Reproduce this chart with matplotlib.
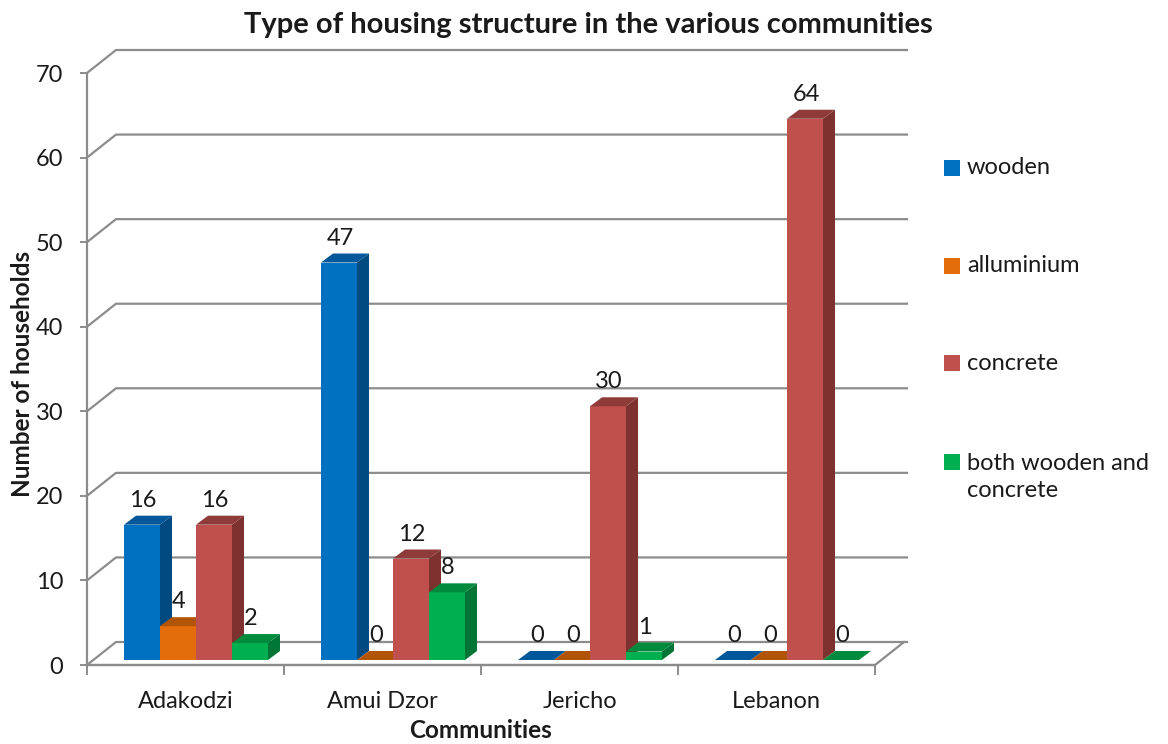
import matplotlib
matplotlib.use("Agg")
import matplotlib.pyplot as plt
from matplotlib.patches import Polygon, Rectangle
from matplotlib.lines import Line2D

# ---- data ----
communities = ["Adakodzi", "Amui Dzor", "Jericho", "Lebanon"]
series_names = ["wooden", "alluminium", "concrete", "both wooden and\nconcrete"]
wooden = [16, 47, 0, 0]
alluminium = [4, 0, 0, 0]
concrete = [16, 12, 30, 64]
both_wooden_concrete = [2, 8, 1, 0]
series_values = [wooden, alluminium, concrete, both_wooden_concrete]
y_ticks = [0, 10, 20, 30, 40, 50, 60, 70]

# face colours per series: (front, top, side)
face_colors = [
    ("#0070C0", "#00579A", "#004A82"),
    ("#E46C0A", "#B25408", "#9A4707"),
    ("#C0504D", "#8F3B39", "#7E3230"),
    ("#00B050", "#008A3E", "#007535"),
]

plt.rcParams["font.family"] = ["Lato", "DejaVu Sans"]
TXT = "#1a1a1a"

W, H = 1168, 744
fig = plt.figure(figsize=(W / 100, H / 100), dpi=100)
fig.patch.set_facecolor("white")

# front plane of the plot area, in figure pixels
AX_L, AX_R, AX_B, AX_T = 87, 875, 665, 73
ax = fig.add_axes([AX_L / W, 1 - AX_B / H, (AX_R - AX_L) / W, (AX_B - AX_T) / H])
n_cat = len(communities)
ax.set_xlim(0, n_cat)
ax.set_ylim(0, 70)
XS = n_cat / (AX_R - AX_L)
YS = 70 / (AX_B - AX_T)


def P(xd, yd, dxp=0.0, dyp=0.0):
    """data point shifted by a pixel offset (dyp positive = up)"""
    return (xd + dxp * XS, yd + dyp * YS)


GRID = "#8c8c8c"
WALL_DX, WALL_DY = 29, 23
GRID_END = 907 - AX_L

# back wall gridlines with their oblique side-wall segments
for v in y_ticks:
    pts = [P(0, v), P(0, v, WALL_DX, WALL_DY), P(0, v, GRID_END, WALL_DY)]
    ax.add_line(Line2D([p[0] for p in pts], [p[1] for p in pts], color=GRID,
                       lw=1.6, clip_on=False, zorder=1))
# floor: front and right edges
floor = [P(0, 0), P(n_cat, 0), P(n_cat, 0, WALL_DX, WALL_DY)]
ax.add_line(Line2D([p[0] for p in floor], [p[1] for p in floor], color=GRID,
                   lw=1.6, clip_on=False, zorder=1))

# bars
BAR_W_PX = 36
GROUP_OFF_PX = 35
FRONT_DX, FRONT_DY = 2, 5      # bar front plane behind the floor edge
DEPTH_DX, DEPTH_DY = 12, 9     # bar depth
bw = BAR_W_PX * XS
for i in range(n_cat):
    for j, vals in enumerate(series_values):
        v = vals[i]
        fc, tc, sc = face_colors[j]
        x0 = i + (GROUP_OFF_PX + BAR_W_PX * j) * XS
        x1 = x0 + bw
        fl = P(x0, 0, FRONT_DX, FRONT_DY)
        fr = P(x1, 0, FRONT_DX, FRONT_DY)
        tl = P(x0, v, FRONT_DX, FRONT_DY)
        tr = P(x1, v, FRONT_DX, FRONT_DY)
        dx, dy = DEPTH_DX * XS, DEPTH_DY * YS
        if v > 0:
            side = [fr, tr, (tr[0] + dx, tr[1] + dy), (fr[0] + dx, fr[1] + dy)]
            ax.add_patch(Polygon(side, closed=True, facecolor=sc, edgecolor="none",
                                 zorder=2, clip_on=False))
            ax.add_patch(Polygon([fl, fr, tr, tl], closed=True, facecolor=fc,
                                 edgecolor="none", zorder=2, clip_on=False))
        top = [tl, tr, (tr[0] + dx, tr[1] + dy), (tl[0] + dx, tl[1] + dy)]
        ax.add_patch(Polygon(top, closed=True, facecolor=tc, edgecolor="none",
                             zorder=2, clip_on=False))
        lx = (x0 + x1) / 2 + 3 * XS
        ly = v + (FRONT_DY + DEPTH_DY + 5) * YS
        ax.text(lx, ly, str(v), ha="center", va="bottom", fontsize=17,
                color=TXT, zorder=5, clip_on=False)

# axes styling
for s in ["top", "right"]:
    ax.spines[s].set_visible(False)
for s in ["left", "bottom"]:
    ax.spines[s].set_color(GRID)
    ax.spines[s].set_linewidth(1.6)
ax.patch.set_alpha(0)
ax.set_yticks(y_ticks)
ax.set_yticklabels([str(t) for t in y_ticks])
ax.tick_params(axis="y", direction="out", length=5, width=1.4, color=GRID,
               labelsize=17, pad=12, labelcolor=TXT)
ax.set_xticks(range(n_cat + 1))
ax.set_xticklabels([""] * (n_cat + 1))
ax.set_xticks([i + 0.5 for i in range(n_cat)], minor=True)
ax.set_xticklabels(communities, minor=True)
ax.tick_params(axis="x", which="major", direction="out", length=7, width=1.4,
               color=GRID)
ax.tick_params(axis="x", which="minor", length=0, labelsize=17, pad=19,
               labelcolor=TXT)

ax.set_ylabel("Number of households", fontsize=17.5, fontweight="bold", color=TXT,
              va="center")
ax.yaxis.set_label_coords((22 - AX_L) / (AX_R - AX_L), (AX_B - 374) / (AX_B - AX_T))
ax.set_xlabel("Communities", fontsize=17.5, fontweight="bold", va="center", color=TXT)
ax.xaxis.set_label_coords((480 - AX_L) / (AX_R - AX_L), -(731 - AX_B) / (AX_B - AX_T))

fig.text(588 / W, 1 - 25 / H, "Type of housing structure in the various communities",
         ha="center", va="center", fontsize=21, fontweight="bold", color=TXT)

# legend
leg_y = [168, 266, 363, 477]
for (fc, _, _), name, y in zip(face_colors, series_names, leg_y):
    sq_y = y if "\n" not in name else 462
    fig.patches.append(Rectangle(((944) / W, 1 - (sq_y + 8) / H), 16 / W, 16 / H,
                                 transform=fig.transFigure, facecolor=fc,
                                 edgecolor="none"))
    fig.text(967 / W, 1 - y / H, name, ha="left", va="center", fontsize=17,
             color=TXT, linespacing=1.3)

fig.savefig("out.png", dpi=100, facecolor="white")
